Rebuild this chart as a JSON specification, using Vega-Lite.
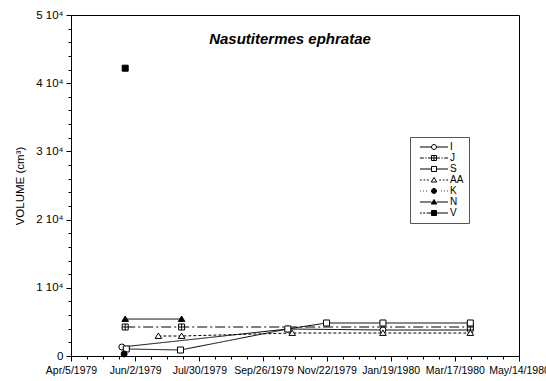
{
  "$schema": "https://vega.github.io/schema/vega-lite/v6.json",
  "width": 448,
  "height": 341,
  "autosize": {"type": "none"},
  "padding": {"left": 71, "top": 15, "right": 27, "bottom": 25},
  "background": "white",
  "config": {
    "view": {"stroke": "black", "strokeWidth": 1},
    "font": "Liberation Sans",
    "axis": {"domainColor": "black", "tickColor": "black", "labelColor": "black", "titleColor": "black", "grid": false, "labelFont": "Liberation Sans", "titleFont": "Liberation Sans"}
  },
  "title": {"text": "Nasutitermes ephratae", "font": "Liberation Sans", "fontSize": 15, "fontStyle": "italic", "fontWeight": "bold", "anchor": "middle", "offset": -38, "dx": -5, "color": "black"},
  "data": {
    "values": [
      {"series": "I", "date": "1979-05-21", "volume": 1320},
      {"series": "I", "date": "1979-10-18", "volume": 3960},
      {"series": "I", "date": "1980-01-12", "volume": 3810},
      {"series": "I", "date": "1980-03-31", "volume": 3810},
      {"series": "J", "date": "1979-05-24", "volume": 4250},
      {"series": "J", "date": "1979-07-14", "volume": 4250},
      {"series": "J", "date": "1980-03-31", "volume": 4250},
      {"series": "S", "date": "1979-05-25", "volume": 1030},
      {"series": "S", "date": "1979-07-13", "volume": 880},
      {"series": "S", "date": "1979-10-18", "volume": 3960},
      {"series": "S", "date": "1979-11-22", "volume": 4840},
      {"series": "S", "date": "1980-01-12", "volume": 4840},
      {"series": "S", "date": "1980-03-31", "volume": 4840},
      {"series": "AA", "date": "1979-06-23", "volume": 2930},
      {"series": "AA", "date": "1979-07-14", "volume": 2930},
      {"series": "AA", "date": "1979-10-22", "volume": 3370},
      {"series": "AA", "date": "1980-01-12", "volume": 3370},
      {"series": "AA", "date": "1980-03-31", "volume": 3370},
      {"series": "K", "date": "1979-05-23", "volume": 300},
      {"series": "N", "date": "1979-05-24", "volume": 5420},
      {"series": "N", "date": "1979-07-14", "volume": 5420},
      {"series": "V", "date": "1979-05-24", "volume": 42200}
    ]
  },
  "resolve": {"axis": {"x": "independent", "y": "independent"}, "scale": {"shape": "independent", "fill": "independent"}},
  "layer": [
    {
      "mark": {"type": "line", "stroke": "black", "strokeWidth": 1},
      "encoding": {
        "x": {
          "field": "date", "type": "temporal",
          "scale": {"type": "utc", "domain": [292118400000, 327110400000], "nice": false},
          "axis": {
            "orient": "bottom", "title": null,
            "values": [292118400000, 297129600000, 302140800000, 307152000000, 312076800000, 317088000000, 322099200000, 327110400000],
            "labelExpr": "utcFormat(datum.value, '%b/%-d/%Y')",
            "labelFontSize": 10.5, "tickSize": 5, "labelPadding": 4, "labelOverlap": false, "labelFlush": false, "labelBound": false
          }
        },
        "y": {
          "field": "volume", "type": "quantitative",
          "scale": {"domain": [0, 50000], "nice": false, "zero": true},
          "axis": {
            "orient": "left", "title": "VOLUME (cm³)", "titleFontSize": 11.5, "titleFontWeight": "normal", "titlePadding": 10,
            "values": [0, 10000, 20000, 30000, 40000, 50000],
            "labelExpr": "datum.value == 0 ? '0' : (datum.value / 10000) + ' 10⁴'",
            "labelFontSize": 11.5, "tickSize": 5, "labelPadding": 3
          }
        },
        "strokeDash": {
          "field": "series", "type": "nominal",
          "scale": {"domain": ["I", "J", "S", "AA", "K", "N", "V"], "range": [[1, 0], [10, 3, 2, 3], [1, 0], [3, 2], [1, 2], [1, 0], [4, 2]]},
          "legend": null
        }
      }
    },
    {
      "mark": {"type": "point", "filled": true, "stroke": "black", "strokeWidth": 1, "opacity": 1, "size": 36},
      "encoding": {
        "x": {
          "field": "date", "type": "temporal",
          "axis": {
            "orient": "bottom", "title": null, "labels": false, "domain": false, "tickSize": 3,
            "values": [292118400000, 293371200000, 294624000000, 295876800000, 297129600000, 298382400000, 299635200000, 300888000000, 302140800000, 303393600000, 304646400000, 305899200000, 307152000000, 308383200000, 309614400000, 310845600000, 312076800000, 313329600000, 314582400000, 315835200000, 317088000000, 318340800000, 319593600000, 320846400000, 322099200000, 323352000000, 324604800000, 325857600000, 327110400000]
          }
        },
        "y": {
          "field": "volume", "type": "quantitative",
          "axis": {
            "orient": "left", "title": null, "labels": false, "domain": false, "tickSize": 3,
            "values": [0, 2000, 4000, 6000, 8000, 10000, 12000, 14000, 16000, 18000, 20000, 22000, 24000, 26000, 28000, 30000, 32000, 34000, 36000, 38000, 40000, 42000, 44000, 46000, 48000, 50000]
          }
        },
        "shape": {
          "field": "series", "type": "nominal",
          "scale": {"domain": ["I", "J", "S", "AA", "K", "N", "V"], "range": ["circle", "M-1,-1H1V1H-1ZM0,-1V1M-1,0H1", "square", "M0,-1L1.1,0.8H-1.1Z", "circle", "M0,-1L1.1,0.8H-1.1Z", "square"]},
          "legend": null
        },
        "fill": {
          "field": "series", "type": "nominal",
          "scale": {"domain": ["I", "J", "S", "AA", "K", "N", "V"], "range": ["white", "white", "white", "white", "black", "black", "black"]},
          "legend": null
        }
      }
    },
    {
      "transform": [{"filter": "datum.volume < 0"}],
      "mark": {"type": "point", "filled": true, "stroke": "black", "strokeWidth": 1, "opacity": 1, "size": 25},
      "encoding": {
        "x": {"field": "date", "type": "temporal", "axis": null},
        "y": {"field": "volume", "type": "quantitative", "axis": null},
        "shape": {
          "field": "series", "type": "nominal",
          "scale": {"domain": ["I", "J", "S", "AA", "K", "N", "V"], "range": [
            "M-5.6,0H-1M1,0H5.6M1,0A1,1 0 1,1 -1,0A1,1 0 1,1 1,0Z",
            "M-5.6,0H-4.1M-3.5,0H-3M-2.4,0H-1M1,0H2.4M3,0H3.5M4.1,0H5.6M-1,-1H1V1H-1ZM0,-1V1M-1,0H1",
            "M-5.6,0H-1M1,0H5.6M-1,-1H1V1H-1Z",
            "M-5.6,0H-4.9M-4.2,0H-3.5M-2.8,0H-2.1M2.1,0H2.8M3.5,0H4.2M4.9,0H5.6M0,-1L1.1,0.8H-1.1Z",
            "M-5.5,0H-5.2M-4.3,0H-4M-3.1,0H-2.8M2.8,0H3.1M4,0H4.3M5.2,0H5.5M1,0A1,1 0 1,1 -1,0A1,1 0 1,1 1,0Z",
            "M-5.6,0H-1M1,0H5.6M0,-1L1.1,0.8H-1.1Z",
            "M-5.6,0H-4.9M-4.3,0H-3.5M-2.9,0H-1M1,0H5.6M-1,-1H1V1H-1Z"
          ]},
          "legend": {
            "title": null, "orient": "none", "legendX": 339, "legendY": 122,
            "strokeColor": "#555", "fillColor": "white", "padding": 5,
            "symbolSize": 25, "symbolOffset": 14, "labelOffset": 11, "symbolOpacity": 1,
            "labelFont": "Liberation Sans", "labelFontSize": 10, "labelColor": "black",
            "rowPadding": 1, "symbolStrokeColor": "black", "symbolStrokeWidth": 1,
            "encode": {"symbols": {"update": {"stroke": {"value": "black"}, "strokeWidth": {"value": 1}, "strokeOpacity": {"value": 1}}}}
          }
        },
        "fill": {
          "field": "series", "type": "nominal",
          "scale": {"domain": ["I", "J", "S", "AA", "K", "N", "V"], "range": ["white", "white", "white", "white", "black", "black", "black"]},
          "legend": {
            "title": null, "orient": "none", "legendX": 339, "legendY": 122,
            "strokeColor": "#555", "fillColor": "white", "padding": 5,
            "symbolSize": 25, "symbolOffset": 14, "labelOffset": 11, "symbolOpacity": 1,
            "labelFont": "Liberation Sans", "labelFontSize": 10, "labelColor": "black",
            "rowPadding": 1, "symbolStrokeColor": "black", "symbolStrokeWidth": 1,
            "encode": {"symbols": {"update": {"stroke": {"value": "black"}, "strokeWidth": {"value": 1}, "strokeOpacity": {"value": 1}}}}
          }
        }
      }
    }
  ]
}
